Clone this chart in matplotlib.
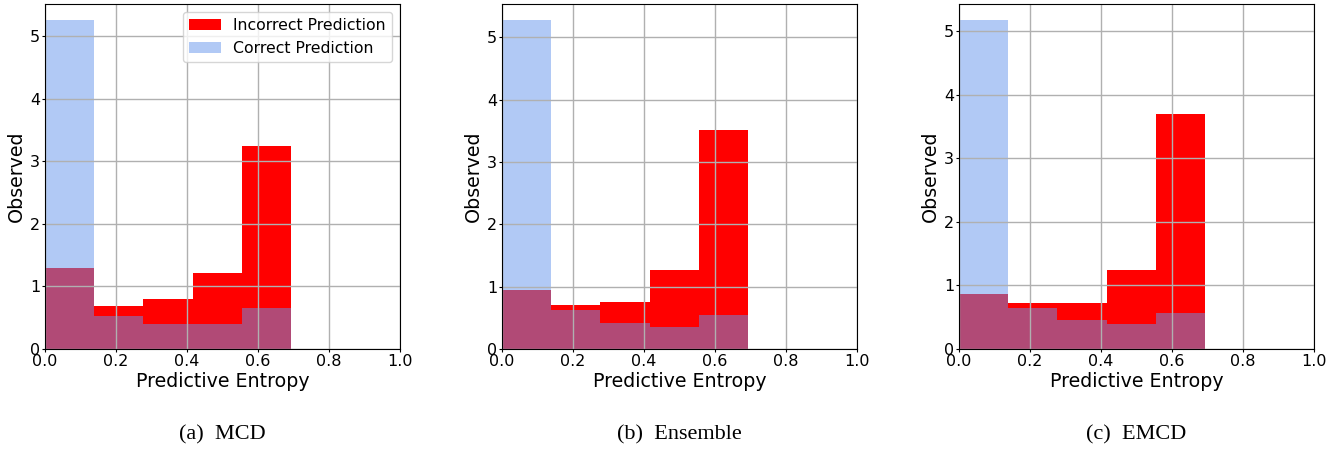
import numpy as np
import matplotlib
matplotlib.use('Agg')
import matplotlib.pyplot as plt

# bin edges: 5 equal bins from 0 to ln(2)
edges = np.linspace(0, np.log(2), 6)

methods = ['MCD', 'Ensemble', 'EMCD']
captions = ['(a)  MCD', '(b)  Ensemble', '(c)  EMCD']

incorrect_mcd = [1.29, 0.68, 0.80, 1.21, 3.24]
correct_mcd = [5.25, 0.53, 0.40, 0.40, 0.66]

incorrect_ens = [0.95, 0.71, 0.76, 1.26, 3.52]
correct_ens = [5.27, 0.63, 0.41, 0.35, 0.55]

incorrect_emcd = [0.86, 0.72, 0.72, 1.25, 3.69]
correct_emcd = [5.17, 0.65, 0.45, 0.39, 0.57]

incorrect = [incorrect_mcd, incorrect_ens, incorrect_emcd]
correct = [correct_mcd, correct_ens, correct_emcd]

fig = plt.figure(figsize=(13.38, 4.5), dpi=100)
lefts = [45, 502, 959]
width = 355
for i in range(3):
    ax = fig.add_axes([lefts[i]/1338, 1-349/450, width/1338, 345/450])
    w = np.diff(edges)
    ax.bar(edges[:-1], incorrect[i], width=w, align='edge', color='red',
           label='Incorrect Prediction')
    ax.bar(edges[:-1], correct[i], width=w, align='edge', color='cornflowerblue',
           alpha=0.5, label='Correct Prediction')
    ax.set_xlim(0, 1)
    ax.grid(True, color='#b0b0b0', linewidth=1)
    ax.tick_params(labelsize=11.5, length=2, pad=1.5)
    ax.set_xlabel('Predictive Entropy', fontsize=13.7, labelpad=2)
    ax.set_ylabel('Observed', fontsize=13.7, labelpad=3)
    if i == 0:
        ax.legend(loc='upper right', fontsize=11.3)
    fig.text((lefts[i] + width/2)/1338, 1-435/450, captions[i],
             ha='center', va='center', fontsize=16, family='Liberation Serif')

fig.savefig('out.png', dpi=100)
